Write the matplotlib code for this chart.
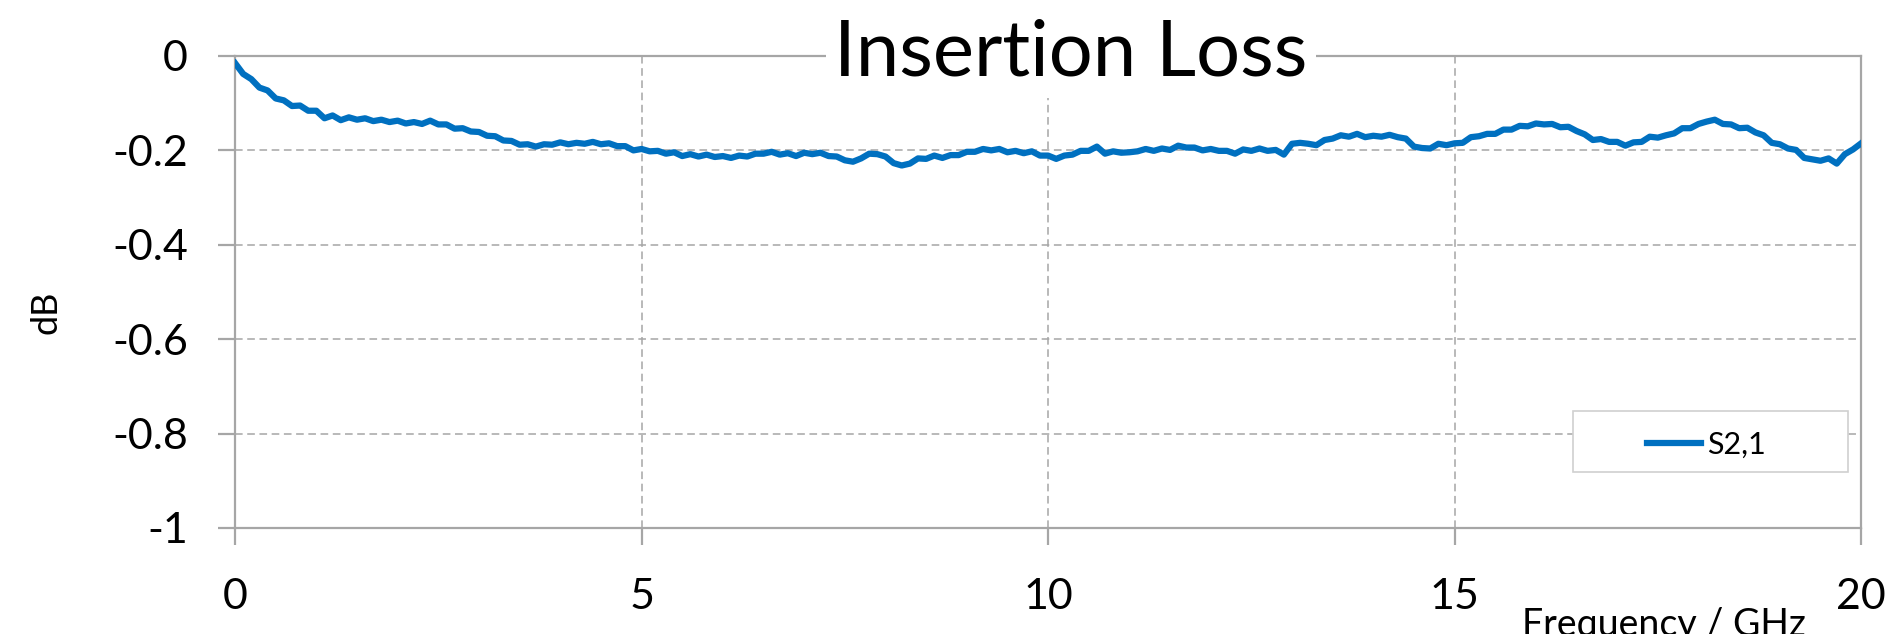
import matplotlib
matplotlib.use("Agg")
import matplotlib.pyplot as plt
import numpy as np
from matplotlib.patches import Rectangle

plt.rcParams['font.family'] = ['Lato', 'DejaVu Sans']

# Frequency (GHz) and S2,1 (dB)
freq = np.round(np.arange(0, 20.01, 0.1), 1)
s21 = [
    -0.015, -0.038, -0.049, -0.067, -0.073, -0.090, -0.094, -0.106, -0.105, -0.116,
    -0.116, -0.132, -0.126, -0.136, -0.130, -0.135, -0.132, -0.138, -0.135, -0.140,
    -0.137, -0.143, -0.140, -0.144, -0.137, -0.145, -0.145, -0.154, -0.153, -0.160,
    -0.161, -0.169, -0.170, -0.179, -0.180, -0.188, -0.187, -0.192, -0.187, -0.188,
    -0.183, -0.187, -0.184, -0.186, -0.182, -0.187, -0.185, -0.191, -0.191, -0.200,
    -0.197, -0.202, -0.201, -0.207, -0.204, -0.212, -0.208, -0.213, -0.209, -0.214,
    -0.212, -0.216, -0.211, -0.213, -0.207, -0.207, -0.203, -0.209, -0.206, -0.212,
    -0.205, -0.208, -0.205, -0.212, -0.213, -0.221, -0.224, -0.217, -0.207, -0.208,
    -0.213, -0.227, -0.232, -0.228, -0.217, -0.218, -0.211, -0.216, -0.210, -0.210,
    -0.203, -0.203, -0.197, -0.200, -0.197, -0.204, -0.201, -0.206, -0.202, -0.211,
    -0.211, -0.218, -0.211, -0.209, -0.201, -0.201, -0.192, -0.207, -0.202, -0.205,
    -0.204, -0.202, -0.197, -0.201, -0.196, -0.199, -0.190, -0.194, -0.194, -0.200,
    -0.197, -0.201, -0.201, -0.207, -0.198, -0.201, -0.196, -0.201, -0.199, -0.209,
    -0.186, -0.184, -0.186, -0.189, -0.178, -0.175, -0.168, -0.171, -0.165, -0.172,
    -0.169, -0.171, -0.167, -0.172, -0.175, -0.192, -0.195, -0.196, -0.186, -0.189,
    -0.185, -0.184, -0.172, -0.170, -0.165, -0.165, -0.156, -0.156, -0.148, -0.149,
    -0.143, -0.145, -0.144, -0.151, -0.150, -0.159, -0.166, -0.178, -0.176, -0.182,
    -0.182, -0.190, -0.183, -0.182, -0.171, -0.173, -0.168, -0.164, -0.153, -0.153,
    -0.144, -0.139, -0.135, -0.144, -0.145, -0.153, -0.152, -0.162, -0.168, -0.184,
    -0.187, -0.196, -0.199, -0.216, -0.219, -0.222, -0.217, -0.228, -0.208, -0.198,
    -0.185,
]
xticks = [0, 5, 10, 15, 20]
yticks = [-1, -0.8, -0.6, -0.4, -0.2, 0]
ylabels = ['-1', '-0.8', '-0.6', '-0.4', '-0.2', '0']

fig = plt.figure(figsize=(18.97, 6.34), dpi=100)
ax = fig.add_axes([0.1239, 0.1672, 0.8572, 0.7445])

ax.plot(freq, s21, color='#0070C0', lw=4.5, solid_joinstyle='round', label='S2,1', zorder=5)

ax.set_xlim(0, 20)
ax.set_ylim(-1, 0)
ax.set_xticks(xticks)
ax.set_yticks(yticks)
ax.set_yticklabels(ylabels)
ax.grid(True, ls=(0, (5, 3)), color='#a6a6a6', lw=1.1)
for sp in ax.spines.values():
    sp.set_color('#a6a6a6')
    sp.set_linewidth(1.6)
ax.tick_params(axis='both', direction='out', length=12, width=1.6, color='#a6a6a6', labelsize=31)
ax.tick_params(axis='y', pad=22)
ax.tick_params(axis='x', pad=24)

# legend box
ax.add_patch(Rectangle((0.8229, 0.1186), 0.1691, 0.1292, transform=ax.transAxes,
                       facecolor='white', edgecolor='#d0d0d0', lw=1.2, zorder=6))
leg = ax.legend(loc='center left', bbox_to_anchor=(0.8684, 0.1758), frameon=False,
                fontsize=22, handlelength=1.75, handletextpad=0.2, borderpad=0, borderaxespad=0)
leg.set_zorder(7)

fig.text(0.5646, 1 - 54 / 634, 'Insertion Loss', fontsize=56, ha='center', va='center',
         bbox=dict(facecolor='white', edgecolor='none', pad=6))
fig.text(46 / 1897, 1 - 312 / 634, 'dB', rotation=90, fontsize=26, ha='center', va='center')
fig.text(1664 / 1897, 1 - 607 / 634, 'Frequency / GHz', fontsize=27, ha='center', va='top')

fig.savefig('out.png', dpi=100)
